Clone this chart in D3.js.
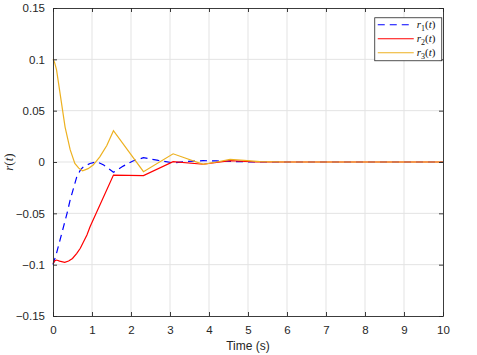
<!DOCTYPE html>
<meta charset="utf-8">
<style>
body { margin: 0; background: #fff; }
.tick text { font-family: "Liberation Sans", Arial, sans-serif; font-size: 11.5px; fill: #262626; }
.grid line { stroke: #e3e3e3; stroke-width: 1px; }
.line { fill: none; stroke-width: 1.2px; }
</style>
<body></body>
<script src="https://cdn.jsdelivr.net/npm/d3@7"></script>
<script>

// r1(t), blue dashed
var t1 = [0, 0.09, 0.18, 0.27, 0.36, 0.44, 0.53, 0.61, 0.7, 0.78, 0.95, 1.12, 1.3, 1.55, 1.8, 2.05, 2.32, 2.7, 3.08, 3.45, 3.85, 4.2, 4.6, 5.2, 6, 10];
var r1 = [-0.1, -0.089, -0.076, -0.063, -0.05, -0.037, -0.025, -0.0143, -0.008, -0.0046, -0.0015, 0.0003, -0.003, -0.010, -0.004, 0.001, 0.0042, 0.0015, -0.0008, 0.0005, 0.0013, 0.001, 0.0005, 0, 0, 0];

// r2(t), red
var t2 = [0, 0.04, 0.09, 0.17, 0.3, 0.4, 0.5, 0.61, 0.7, 0.78, 0.87, 0.95, 1.55, 2.32, 3.08, 3.85, 4.54, 5.2, 6, 10];
var r2 = [-0.099, -0.0965, -0.0955, -0.0965, -0.0977, -0.0965, -0.094, -0.089, -0.084, -0.078, -0.071, -0.063, -0.0127, -0.0133, 0.0003, -0.0022, 0.0013, 0, 0, 0];

// r3(t), orange
var t3 = [0, 0.04, 0.09, 0.18, 0.31, 0.44, 0.56, 0.66, 0.76, 0.9, 1.03, 1.2, 1.38, 1.55, 2.32, 3.08, 3.85, 4.2, 4.54, 4.9, 5.3, 6, 10];
var r3 = [0.1, 0.097, 0.09, 0.067, 0.034, 0.012, -0.0013, -0.006, -0.0085, -0.0065, -0.003, 0.005, 0.016, 0.0305, -0.0094, 0.008, -0.0023, 0.0, 0.0026, 0.0015, 0.0003, 0, 0];

var xTicks = [0, 1, 2, 3, 4, 5, 6, 7, 8, 9, 10];
var yTicks = [-0.15, -0.1, -0.05, 0, 0.05, 0.1, 0.15];

var margin = {top: 8, right: 34, bottom: 39, left: 53},
    width = 477 - margin.left - margin.right,
    height = 355 - margin.top - margin.bottom;

var svg = d3.select("body").append("svg")
    .attr("width", 477)
    .attr("height", 355)
  .append("g")
    .attr("transform", "translate(" + margin.left + "," + margin.top + ")");

var x = d3.scaleLinear().domain([0, 10]).range([0, width]);
var y = d3.scaleLinear().domain([-0.15, 0.15]).range([height, 0]);

// grid
svg.append("g").attr("class", "grid")
  .selectAll("line").data(xTicks.slice(1, -1)).enter().append("line")
    .attr("x1", function(d) { return x(d); }).attr("x2", function(d) { return x(d); })
    .attr("y1", 0).attr("y2", height);
svg.append("g").attr("class", "grid")
  .selectAll("line").data(yTicks.slice(1, -1)).enter().append("line")
    .attr("y1", function(d) { return y(d); }).attr("y2", function(d) { return y(d); })
    .attr("x1", 0).attr("x2", width);

// lines
var series = [
  {t: t1, r: r1, color: "#0000ff", dash: "7,5", name: "1"},
  {t: t2, r: r2, color: "#ff0000", dash: null, name: "2"},
  {t: t3, r: r3, color: "#EDB120", dash: null, name: "3"}
];

var line = d3.line()
    .x(function(d) { return x(d[0]); })
    .y(function(d) { return y(d[1]); });

series.forEach(function(s) {
  svg.append("path")
    .datum(d3.zip(s.t, s.r))
    .attr("class", "line")
    .attr("d", line)
    .style("stroke", s.color)
    .style("stroke-dasharray", s.dash);
});

// axes (MATLAB style box, ticks inward)
function styleAxis(g) {
  g.select(".domain").attr("stroke", "#262626").attr("stroke-width", 0.9);
  g.selectAll(".tick line").attr("stroke", "#262626").attr("stroke-width", 0.9);
}

svg.append("g")
    .attr("transform", "translate(0," + height + ")")
    .call(d3.axisBottom(x).tickValues(xTicks).tickSizeInner(-4).tickSizeOuter(0).tickPadding(10).tickFormat(d3.format("d")))
    .call(styleAxis);
svg.append("g")
    .call(d3.axisTop(x).tickValues(xTicks).tickSizeInner(-4).tickSizeOuter(0).tickFormat(""))
    .call(styleAxis);
svg.append("g")
    .call(d3.axisLeft(y).tickValues(yTicks).tickSizeInner(-4).tickSizeOuter(0).tickPadding(8).tickFormat(function(d) { return d3.format("")(+d.toFixed(2)); }))
    .call(styleAxis);
svg.append("g")
    .attr("transform", "translate(" + width + ",0)")
    .call(d3.axisRight(y).tickValues(yTicks).tickSizeInner(-4).tickSizeOuter(0).tickFormat(""))
    .call(styleAxis);

svg.selectAll(".tick text").attr("fill", "#262626");

// axis labels
svg.append("text")
    .attr("x", width / 2)
    .attr("y", height + 34)
    .attr("text-anchor", "middle")
    .style("font-family", "Liberation Sans, Arial, sans-serif")
    .style("font-size", "12px")
    .style("fill", "#262626")
    .text("Time (s)");

var yl = svg.append("text")
    .attr("transform", "translate(" + (-40) + "," + y(0) + ") rotate(-90)")
    .attr("text-anchor", "middle")
    .style("font-family", "Liberation Serif, serif")
    .style("font-size", "13px")
    .style("fill", "#262626");
yl.append("tspan").style("font-style", "italic").text("r");
yl.append("tspan").text("(");
yl.append("tspan").style("font-style", "italic").text("t");
yl.append("tspan").text(")");

// legend
var lg = svg.append("g").attr("transform", "translate(" + (x(8.25)) + "," + (y(0.1405)) + ")");
lg.append("rect")
    .attr("width", 67).attr("height", 43)
    .attr("fill", "#fff").attr("stroke", "#262626").attr("stroke-width", 0.8);

var item = lg.selectAll(".lineLegend").data(series).enter().append("g")
    .attr("class", "lineLegend")
    .attr("transform", function(d, i) { return "translate(0," + (7 + i * 14) + ")"; });
item.append("line")
    .attr("x1", 3).attr("x2", 39).attr("y1", 0).attr("y2", 0)
    .style("stroke", function(d) { return d.color; })
    .style("stroke-width", 1.2)
    .style("stroke-dasharray", function(d) { return d.dash; });
var lt = item.append("text")
    .attr("x", 42).attr("y", 3.5)
    .style("font-family", "Liberation Serif, serif")
    .style("font-size", "11px")
    .style("fill", "#111");
lt.append("tspan").style("font-style", "italic").text("r");
lt.append("tspan").attr("dy", 2.5).style("font-size", "8px").text(function(d) { return d.name; });
lt.append("tspan").attr("dy", -2.5).text("(");
lt.append("tspan").style("font-style", "italic").text("t");
lt.append("tspan").text(")");

</script>
